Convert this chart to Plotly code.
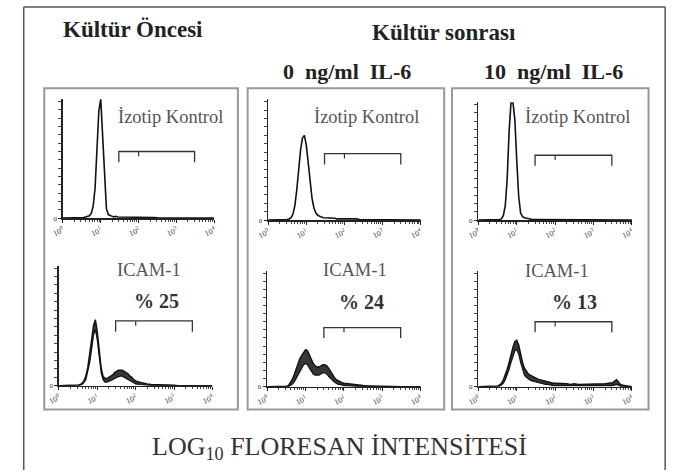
import plotly.graph_objects as go

# ---------------- data ----------------
# log10 fluorescence grid (0.05 steps to 2.0, then 0.1 steps to 4.0)
LOG_F = [0.00, 0.05, 0.10, 0.15, 0.20, 0.25, 0.30, 0.35, 0.40, 0.45,
         0.50, 0.55, 0.60, 0.65, 0.70, 0.75, 0.80, 0.85, 0.90, 0.95,
         1.00, 1.05, 1.10, 1.15, 1.20, 1.25, 1.30, 1.35, 1.40, 1.45,
         1.50, 1.55, 1.60, 1.65, 1.70, 1.75, 1.80, 1.85, 1.90, 1.95,
         2.00, 2.1, 2.2, 2.3, 2.4, 2.5, 2.6, 2.7, 2.8, 2.9,
         3.0, 3.1, 3.2, 3.3, 3.4, 3.5, 3.6, 3.7, 3.8, 3.9, 4.0]

# relative cell counts (% of axis height)
P1_ISO = [0, 0, 0, 0, 0, 0, 0, 0, 0, 0,
          0.5, 0.5, 1, 1.5, 2, 4, 10, 25, 55, 90,
          100, 70, 30, 8, 3, 2, 1.5, 1, 1.5, 1,
          1, 1, 1, 1, 0.5, 1, 0.5, 0.5, 0.5, 0.5, 0.5,
          0.5, 0.5, 0.5, 0.5, 0.3, 0.3, 0.3, 0.2, 0, 0,
          0, 0, 0, 0, 0, 0, 0, 0, 0, 0]
P1_ICAM_HI = [0, 0, 0, 0, 0, 0, 0, 0, 0, 0,
              0.5, 1, 2, 4, 8, 15, 25, 38, 50, 55,
              45, 30, 15, 8, 6, 6, 7, 8, 9, 11,
              12, 13, 13, 13, 12, 11, 10, 8, 7, 5, 4,
              3, 2, 1.5, 1, 1, 0.5, 0.5, 0.5, 0.5, 0.5,
              0, 0, 0, 0, 0, 0, 0, 0, 0, 0]
P1_ICAM_LO = [0, 0, 0, 0, 0, 0, 0, 0, 0, 0,
              0, 0.5, 1, 2.5, 5, 11, 19, 30, 42, 47,
              38, 24, 11, 5, 3, 3, 3.5, 4, 5, 6,
              7, 7.5, 8, 8, 7, 6, 5, 4, 3, 2, 1.5,
              1, 0.5, 0.5, 0.3, 0.3, 0, 0, 0, 0, 0,
              0, 0, 0, 0, 0, 0, 0, 0, 0, 0]

P2_ISO = [0, 0, 0, 0, 0, 0, 0, 0, 0, 0,
          0.5, 1, 2, 5, 12, 25, 42, 58, 68, 70,
          62, 48, 30, 18, 10, 6, 4, 3, 2.5, 2,
          2, 2, 1.5, 1.5, 1.5, 1.5, 1, 1, 1, 1, 1,
          1, 1.5, 1, 0.5, 0.5, 0.3, 0.3, 0, 0, 0,
          0, 0, 0, 0, 0, 0, 0, 0, 0, 0]
P2_ICAM_HI = [0, 0, 0, 0, 0, 0, 0, 0, 0, 0,
              0.5, 1, 3, 6, 10, 15, 20, 24, 27, 30,
              32, 31, 27, 23, 20, 18, 17, 17, 18, 19,
              19, 18, 16, 13, 10, 8, 6, 5, 4, 3.5, 3,
              2.5, 2, 1.5, 1, 1, 0.8, 0.5, 0.5, 0.5, 0.5,
              0.3, 0, 0, 0, 0, 0, 0, 0, 0, 0]
P2_ICAM_LO = [0, 0, 0, 0, 0, 0, 0, 0, 0, 0,
              0, 0, 1, 2, 4, 7, 11, 14, 17, 19,
              20, 19, 16, 13, 11, 10, 10, 10, 11, 12,
              12, 11, 9, 7, 5, 4, 3, 2, 2, 1.5, 1,
              1, 0.5, 0.5, 0, 0, 0, 0, 0, 0, 0,
              0, 0, 0, 0, 0, 0, 0, 0, 0, 0]

P3_ISO = [0, 0, 0, 0, 0, 0, 0, 0, 0, 0,
          0, 0.5, 1, 4, 12, 35, 75, 100, 100, 85,
          50, 20, 6, 3, 2, 1.5, 1, 0.8, 0.5, 0.5,
          0.5, 0.3, 0.3, 0.3, 0.3, 0.3, 0.3, 0.3, 0.3, 0.3, 0.3,
          0, 0, 0, 0, 0, 0, 0, 0, 0, 0,
          0, 0, 0, 0, 0, 0, 0, 0, 0, 0]
P3_ICAM_HI = [0, 0, 0, 0, 0, 0, 0, 0, 0, 0,
              0.5, 1.5, 3, 6, 10, 15, 21, 28, 34, 39,
              40, 36, 28, 21, 16, 13, 11, 10, 9, 8,
              7, 6.5, 6, 5.5, 5, 4.5, 4, 4, 3.5, 3, 3,
              3, 2.5, 2.5, 2, 2.5, 2, 2, 2.5, 2, 2,
              2.5, 2, 2.5, 3, 3.5, 6, 2, 1, 0.5, 0]
P3_ICAM_LO = [0, 0, 0, 0, 0, 0, 0, 0, 0, 0,
              0, 0.5, 1.5, 3, 6, 10, 15, 21, 27, 31,
              32, 28, 21, 15, 10, 8, 6.5, 5.5, 5, 4.5,
              4, 3.5, 3, 3, 2.5, 2, 2, 1.5, 1.5, 1, 1,
              1, 0.5, 0.5, 0.5, 0.5, 0.5, 0.5, 0.5, 0.5, 0.5,
              0.5, 0.5, 0.5, 1, 1, 2, 0.5, 0, 0, 0]

ICAM_PERCENT = [25, 24, 13]
GATE_LOW = 30        # gate start (fluorescence)
GATE_HIGH = 3000     # gate end
GATE_MARK = 100      # small inner mark
X_TICKS = [1, 10, 100, 1000, 10000]
X_TICK_TEXT = ["10<sup>0</sup>", "10<sup>1</sup>", "10<sup>2</sup>",
               "10<sup>3</sup>", "10<sup>4</sup>"]

TITLE_PRE = "Kültür Öncesi"
TITLE_POST = "Kültür sonrası"
DOSE_LABELS = ["0\u00a0\u00a0ng/ml\u00a0\u00a0IL-6", "10\u00a0\u00a0ng/ml\u00a0\u00a0IL-6"]
ISO_LABEL = "İzotip Kontrol"
ICAM_LABEL = "ICAM-1"
X_TITLE = "LOG<sub>10</sub> FLORESAN İNTENSİTESİ"

for arr in [P1_ISO, P1_ICAM_HI, P1_ICAM_LO, P2_ISO, P2_ICAM_HI, P2_ICAM_LO,
            P3_ISO, P3_ICAM_HI, P3_ICAM_LO]:
    assert len(arr) == len(LOG_F), len(arr)

X_VALS = [10 ** v for v in LOG_F]

# ---------------- layout helpers ----------------
W, H = 675, 474


def fx(p):
    return p / W


def fy(p):
    return 1 - p / H


# subplot boxes in pixels: (x0, x1, ytop, ybottom)
BOXES = [
    (52, 207, 100, 220), (48, 205, 268, 389),     # panel 1 top / bottom
    (262, 418, 100, 222), (261, 418, 273, 390),   # panel 2
    (477, 634, 103, 222), (477, 634, 273, 390),   # panel 3
]
GATE_Y = [56, 54, 55, 51, 55, 56]
GATE_DROP = 9

ISO_SERIES = [P1_ISO, P2_ISO, P3_ISO]
ICAM_SERIES = [(P1_ICAM_HI, P1_ICAM_LO), (P2_ICAM_HI, P2_ICAM_LO), (P3_ICAM_HI, P3_ICAM_LO)]

fig = go.Figure()
layout_axes = {}
minor_x = [m * 10 ** k for k in range(4) for m in range(2, 10)]

for i, (x0, x1, yt, yb) in enumerate(BOXES):
    n = i + 1
    xa = "x" if n == 1 else f"x{n}"
    ya = "y" if n == 1 else f"y{n}"
    xkey = "xaxis" if n == 1 else f"xaxis{n}"
    ykey = "yaxis" if n == 1 else f"yaxis{n}"
    layout_axes[xkey] = dict(
        domain=[fx(x0), fx(x1)], anchor=ya, type="log", range=[0, 4],
        showgrid=False, zeroline=False, showline=True, linecolor="#222", linewidth=1.5,
        tickvals=X_TICKS, ticktext=X_TICK_TEXT, ticks="outside", ticklen=3,
        tickcolor="#222", tickangle=-25,
        tickfont=dict(family="Liberation Serif", size=8, color="#333"),
        minor=dict(ticks="outside", ticklen=2, tickcolor="#444", tickvals=minor_x),
    )
    layout_axes[ykey] = dict(
        domain=[fy(yb), fy(yt)], anchor=xa, range=[0, 100],
        showgrid=False, zeroline=False, showline=True, linecolor="#222", linewidth=1.5,
        tickvals=[0], ticktext=["0"], ticks="outside", ticklen=3, tickcolor="#222",
        tickfont=dict(family="Liberation Serif", size=7, color="#333"),
        minor=dict(ticks="outside", ticklen=3, tickcolor="#444", dtick=7),
    )

    panel = i // 2
    if i % 2 == 0:
        fig.add_trace(go.Scatter(
            x=X_VALS, y=ISO_SERIES[panel], mode="lines", xaxis=xa, yaxis=ya,
            line=dict(color="#111", width=1.6), showlegend=False, cliponaxis=True))
    else:
        hi, lo = ICAM_SERIES[panel]
        fig.add_trace(go.Scatter(
            x=X_VALS, y=lo, mode="lines", xaxis=xa, yaxis=ya,
            line=dict(color="#111", width=1.2), showlegend=False))
        fig.add_trace(go.Scatter(
            x=X_VALS, y=hi, mode="lines", xaxis=xa, yaxis=ya, fill="tonexty",
            fillcolor="rgba(20,20,20,0.85)",
            line=dict(color="#111", width=1.4), showlegend=False))

    gy = GATE_Y[i]
    fig.add_trace(go.Scatter(
        x=[GATE_LOW, GATE_LOW, GATE_HIGH, GATE_HIGH],
        y=[gy - GATE_DROP, gy, gy, gy - GATE_DROP],
        mode="lines", xaxis=xa, yaxis=ya, line=dict(color="#333", width=1.3),
        showlegend=False))
    fig.add_trace(go.Scatter(
        x=[GATE_MARK, GATE_MARK], y=[gy, gy - 4], mode="lines", xaxis=xa, yaxis=ya,
        line=dict(color="#333", width=1.2), showlegend=False))

FRAME = dict(color="#555", width=1.5)
shapes = [
    dict(type="line", xref="paper", yref="paper", x0=fx(12), x1=fx(668), y0=fy(7), y1=fy(7), line=FRAME),
    dict(type="line", xref="paper", yref="paper", x0=fx(12), x1=fx(12), y0=0, y1=fy(7), line=FRAME),
    dict(type="line", xref="paper", yref="paper", x0=fx(668), x1=fx(668), y0=0, y1=fy(7), line=FRAME),
]
for (bx0, bx1) in [(33, 231), (241, 442), (450, 651)]:
    shapes.append(dict(type="rect", xref="paper", yref="paper", x0=fx(bx0), x1=fx(bx1),
                       y0=fy(413), y1=fy(89), line=dict(color="#999", width=2),
                       fillcolor="rgba(0,0,0,0)"))

SERIF = "Liberation Serif"
ann = []


def add_text(text, cx, cy, size, color="#222", bold=False):
    ann.append(dict(text=f"<b>{text}</b>" if bold else text, x=fx(cx), y=fy(cy),
                    xref="paper", yref="paper", showarrow=False, xanchor="center",
                    yanchor="middle", font=dict(family=SERIF, size=size, color=color)))


add_text(TITLE_PRE, 124, 30, 23, "#222", True)
add_text(TITLE_POST, 442, 33, 23, "#222", True)
add_text(DOSE_LABELS[0], 343, 72, 22, "#222", True)
add_text(DOSE_LABELS[1], 554, 72, 22, "#222", True)

for cx in [162, 363, 578]:
    add_text(ISO_LABEL, cx, 118, 18.5, "#555")
for (cx, cy) in [(140, 272), (351, 272), (557, 273)]:
    add_text(ICAM_LABEL, cx, cy, 18.5, "#555")
for v, (cx, cy) in zip(ICAM_PERCENT, [(148, 304), (357, 305), (575, 305)]):
    add_text(f"% {v}", cx, cy, 20, "#333", True)

add_text(X_TITLE, 335, 452, 26, "#333")

fig.update_layout(
    width=W, height=H, margin=dict(l=0, r=0, t=0, b=0),
    paper_bgcolor="white", plot_bgcolor="rgba(0,0,0,0)",
    shapes=shapes, annotations=ann, showlegend=False, hovermode=False,
    **layout_axes,
)

fig.write_html("out.html",
               config={"displayModeBar": False, "staticPlot": True},
               post_script="document.body.style.margin='0px';document.body.style.overflow='hidden';")
